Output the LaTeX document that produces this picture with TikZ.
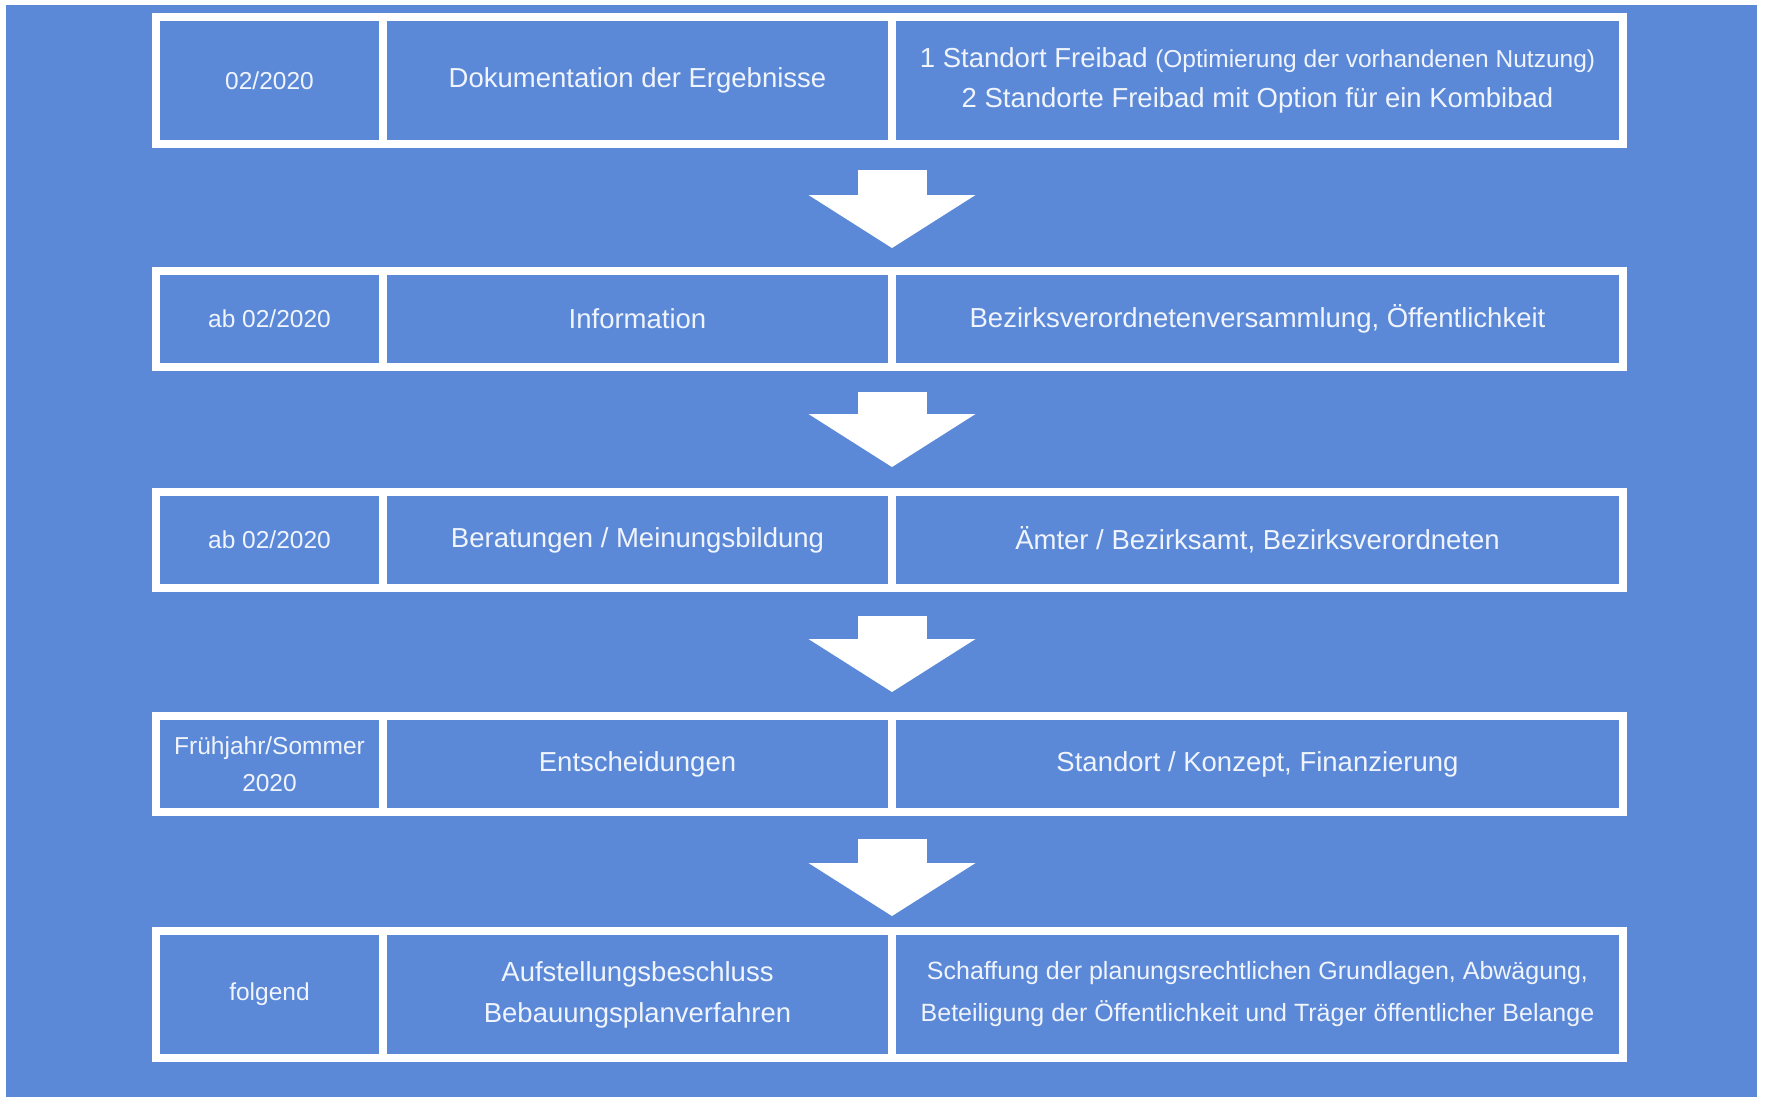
\documentclass[tikz,border=0pt]{standalone}
\usepackage{fontspec}
\setmainfont{Liberation Sans}
\usetikzlibrary{arrows.meta}
\definecolor{bgblue}{RGB}{91,137,216}
\definecolor{txtwhite}{RGB}{240,244,252}
\begin{document}
\begin{tikzpicture}[x=1pt,y=-1pt,
      cell/.style={rectangle,draw=white,line width=7.5pt,fill=bgblue,inner sep=0pt,outer sep=0pt,align=center,text=txtwhite},
      date/.style={cell,minimum width=227pt,font=\fontsize{24.5}{37}\selectfont},
      task/.style={cell,minimum width=509pt,font=\fontsize{27.5}{41}\selectfont},
      party/.style={cell,minimum width=731pt,font=\fontsize{27.5}{40}\selectfont},
      flow/.style={white,line width=69pt,-{Triangle[width=167pt,length=53pt,line width=0pt]}}
    ]
      \useasboundingbox (0,0) rectangle (1773,1096);
      \fill[white] (0,0) rectangle (1773,1096);
      \fill[bgblue] (6,5) rectangle (1757,1100);

      \node[date,minimum height=127pt] (date1) at (269.5,80.5) {02/2020};
      \node[task,minimum height=127pt] (task1) at (637.5,80.5) {Dokumentation der Ergebnisse};
      \node[party,minimum height=127pt] (party1) at (1257.5,80.5) {1 Standort Freibad {\fontsize{24.5}{40}\selectfont(Optimierung der vorhandenen Nutzung)}\\2 Standorte Freibad mit Option für ein Kombibad};

      \node[date,minimum height=96pt] (date2) at (269.5,319) {ab 02/2020};
      \node[task,minimum height=96pt] (task2) at (637.5,319) {Information};
      \node[party,minimum height=96pt] (party2) at (1257.5,319) {Bezirksverordnetenversammlung, Öffentlichkeit};

      \node[date,minimum height=96pt] (date3) at (269.5,540) {ab 02/2020};
      \node[task,minimum height=96pt] (task3) at (637.5,540) {Beratungen / Meinungsbildung};
      \node[party,minimum height=96pt] (party3) at (1257.5,540) {Ämter / Bezirksamt, Bezirksverordneten};

      \node[date,minimum height=96pt] (date4) at (269.5,764) {Frühjahr/Sommer\\2020};
      \node[task,minimum height=96pt] (task4) at (637.5,764) {Entscheidungen};
      \node[party,minimum height=96pt] (party4) at (1257.5,764) {Standort / Konzept, Finanzierung};

      \node[date,minimum height=127pt] (date5) at (269.5,994.5) {folgend};
      \node[task,minimum height=127pt] (task5) at (637.5,994.5) {Aufstellungsbeschluss\\Bebauungsplanverfahren};
      \node[party,minimum height=127pt,font=\fontsize{25}{42}\selectfont] (party5) at (1257.5,994.5) {Schaffung der planungsrechtlichen Grundlagen, Abwägung,\\Beteiligung der Öffentlichkeit und Träger öffentlicher Belange};

      \draw[flow,shorten <=26pt,shorten >=23pt] (task1.south east) -- (task2.north east);
      \draw[flow,shorten <=25pt,shorten >=25pt] (task2.south east) -- (task3.north east);
      \draw[flow,shorten <=28pt,shorten >=24pt] (task3.south east) -- (task4.north east);
      \draw[flow,shorten <=27pt,shorten >=15pt] (task4.south east) -- (task5.north east);
    \end{tikzpicture}
\end{document}
